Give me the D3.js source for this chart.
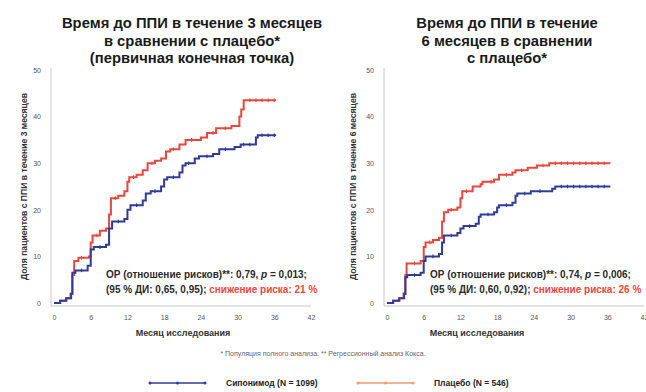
<!DOCTYPE html>
<html>
<head>
<meta charset="utf-8">
<script src="https://cdn.jsdelivr.net/npm/d3@7/dist/d3.min.js"></script>
<style>
  body { margin: 0; background: #fff; }
  svg { font-family: "Liberation Sans", Arial, sans-serif; }
  .tick text { fill: #555; font-size: 7px; }
</style>
</head>
<body>
<div id="chart"></div>
<script>
// ---- data ----
var xTicks = [0, 6, 12, 18, 24, 30, 36, 42];
var yTicks = [0, 10, 20, 30, 40, 50];

var titles3 = ["Время до ППИ в течение 3 месяцев", "в сравнении с плацебо*", "(первичная конечная точка)"];
var titles6 = ["Время до ППИ в течение", "6 месяцев в сравнении", "с плацебо*"];
var yTitle3 = "Доля пациентов с ППИ в течение 3 месяцев";
var yTitle6 = "Доля пациентов с ППИ в течение 6 месяцев";
var xTitle = "Месяц исследования";
var footnote = "* Популяция полного анализа. ** Регрессионный анализ Кокса.";
var seriesNames = ["Сипонимод (N = 1099)", "Плацебо (N = 546)"];

var blue3 = [[0,0],[1,0.5],[2,1],[2.8,2],[3,6.5],[3.5,7],[5.5,8],[6,11.5],[6.5,12],[8.5,12.5],[9,16],[9.5,17.5],
  [11.5,18],[12,20],[12.5,21],[14.5,22],[15,23.5],[15.8,24],[17.5,25],[18,26.5],[18.5,27],[20.5,28],[21,29.5],
  [21.5,30],[23,31],[23.7,31.5],[26,32],[27,33],[29.5,33.5],[30.5,34],[33,35.5],[33.3,36],[36.3,36]];
var red3 = [[0,0],[1,0.5],[2,1],[2.7,2],[3,6],[3.3,9],[4,9.7],[5.7,10],[6,13],[6.3,14.5],[7.5,15.5],[8.5,16],
  [9,19],[9.3,22.5],[10.5,23],[11.5,24],[12,26],[12.3,27],[13.5,27.5],[14.5,28.5],[15.3,30],[16.5,30.5],[17.5,31],
  [18.3,32.5],[19,33],[20.5,34],[21.5,35],[24,35.5],[25,36.5],[26.5,37.5],[29,38],[30.3,40],[30.6,41.5],[31,43.5],[36.3,43.5]];
var blue6 = [[0,0],[1,0.5],[2,1],[2.8,2],[3,5.5],[3.3,6],[5.5,6.5],[6,9],[6.3,10],[8.5,10.5],[9,13],[9.3,14.5],
  [11.5,15],[12,16],[12.5,16.5],[14.5,17],[15,18.5],[15.3,19],[17.5,19.5],[18,20.5],[18.3,21],[20.5,21.5],[21,23],
  [21.3,23.5],[23.5,24],[27,24.5],[27.5,25],[36.5,25]];
var red6 = [[0,0],[1,0.5],[2,1],[2.7,2],[3,6],[3.2,8.5],[5.5,9],[6,12],[6.3,13],[7.5,13.5],[8.5,14],[9,17.5],
  [9.3,19.5],[10,20],[11.5,20.5],[12,22.5],[12.3,24],[14,25],[15.3,25.5],[15.6,26],[17.5,26.5],[18.3,27.5],
  [20.5,28],[21,28.5],[23,29],[24.5,29.5],[26.5,30],[36.5,30]];

// censoring marks (months)
var cBlue3 = [4.5, 7.5, 10.5, 13.5, 16.5, 19.5, 22, 25, 28, 31, 32, 34, 35, 36];
var cRed3 = [4.5, 7, 10, 13, 16, 19.5, 22.5, 26, 28, 32, 33, 34, 35, 36];
var cBlue6 = [4.5, 7.5, 10.5, 13.5, 16.5, 19.5, 22.5, 25, 28.5, 29.5, 30.5, 31.5, 32.5, 33.5, 34.5, 35.5];
var cRed6 = [4.5, 7, 10.5, 13, 17, 19.5, 22, 25.5, 27.5, 28.5, 29.5, 30.5, 31.5, 32.5, 33.5, 34.5, 35.5];

var stats3 = ["ОР (отношение рисков)**: 0,79, ", "p", " = 0,013;", "(95 % ДИ: 0,65, 0,95); ", "снижение риска: 21 %"];
var stats6 = ["ОР (отношение рисков)**: 0,74, ", "p", " = 0,006;", "(95 % ДИ: 0,60, 0,92); ", "снижение риска: 26 %"];

var BLUE = "#2f3b98", RED = "#e8473d", ORANGE = "#f39a6e";

var svg = d3.select("#chart").append("svg")
    .attr("width", 646)
    .attr("height", 392);

function panel(o) {
    var x = d3.scaleLinear().domain([0, 42]).range([o.left, o.left + 257]);
    var y = d3.scaleLinear().domain([0, 50]).range([303, 70]);
    var g = svg.append("g");

    // title
    g.append("text")
        .attr("x", o.cx).attr("y", 28)
        .attr("text-anchor", "middle")
        .style("font-size", "14.8px").style("font-weight", "bold").style("fill", "#1a1a1a")
        .selectAll("tspan").data(o.title).enter().append("tspan")
        .attr("x", o.cx).attr("dy", function (d, i) { return i ? 17.5 : 0; })
        .text(function (d) { return d; });

    var xAxis = d3.axisBottom(x).tickValues(xTicks).tickSize(0).tickPadding(9);
    var yAxis = d3.axisLeft(y).tickValues(yTicks).tickSize(0).tickPadding(10);

    g.append("g").attr("transform", "translate(0,306)").call(xAxis);
    g.append("g").attr("transform", "translate(" + (o.left - 3) + ",0)").call(yAxis);
    g.selectAll(".domain").remove();
    g.append("path")
        .attr("d", "M" + (o.left - 3) + ",68V306H" + x(42))
        .attr("fill", "none").attr("stroke", "#c8c8c8");

    // axis titles
    g.append("text")
        .attr("transform", "translate(" + o.ylx + "," + y(25) + ") rotate(-90)")
        .attr("text-anchor", "middle")
        .style("font-size", "8.6px").style("font-weight", "bold").style("fill", "#333")
        .text(o.ytitle);
    g.append("text")
        .attr("x", o.xtx).attr("y", 336)
        .attr("text-anchor", "middle")
        .style("font-size", "9px").style("font-weight", "bold").style("fill", "#333")
        .text(xTitle);

    var line = d3.line()
        .x(function (d) { return x(d[0]); })
        .y(function (d) { return y(d[1]); })
        .curve(d3.curveStepAfter);

    function stepAt(data, t) {
        var v = 0;
        data.forEach(function (d) { if (d[0] <= t) v = d[1]; });
        return v;
    }

    [[o.red, o.cRed, RED], [o.blue, o.cBlue, BLUE]].forEach(function (s) {
        g.append("path")
            .datum(s[0])
            .attr("d", line)
            .attr("fill", "none")
            .attr("stroke", s[2])
            .attr("stroke-width", 2);
        g.selectAll(null)
            .data(s[1])
            .enter().append("line")
            .attr("x1", function (d) { return x(d); })
            .attr("x2", function (d) { return x(d); })
            .attr("y1", function (d) { return y(stepAt(s[0], d)) - 1.8; })
            .attr("y2", function (d) { return y(stepAt(s[0], d)) + 1.8; })
            .attr("stroke", s[2])
            .attr("stroke-width", 1.2);
    });

    // stats text
    var st = g.append("text")
        .attr("x", o.sx).attr("y", 278)
        .style("font-size", "10px").style("font-weight", "bold").style("fill", "#2a2a2a");
    st.append("tspan").text(o.stats[0]);
    st.append("tspan").style("font-style", "italic").text(o.stats[1]);
    st.append("tspan").text(o.stats[2]);
    var st2 = g.append("text")
        .attr("x", o.sx).attr("y", 293)
        .style("font-size", "10px").style("font-weight", "bold").style("fill", "#2a2a2a");
    st2.append("tspan").text(o.stats[3]);
    st2.append("tspan").style("fill", RED).text(o.stats[4]);
}

panel({left: 54, cx: 192, title: titles3, ytitle: yTitle3, ylx: 27, xtx: 183,
    blue: blue3, red: red3, cBlue: cBlue3, cRed: cRed3, stats: stats3, sx: 106});
panel({left: 387, cx: 507, title: titles6, ytitle: yTitle6, ylx: 356, xtx: 477,
    blue: blue6, red: red6, cBlue: cBlue6, cRed: cRed6, stats: stats6, sx: 430});

// footnote
svg.append("text")
    .attr("x", 323).attr("y", 356)
    .attr("text-anchor", "middle")
    .style("font-size", "7px").style("fill", "#666")
    .text(footnote);

// legend
var legend = svg.append("g").attr("transform", "translate(0,383)");
[[150, BLUE, seriesNames[0]], [358, ORANGE, seriesNames[1]]].forEach(function (l) {
    legend.append("line")
        .attr("x1", l[0]).attr("x2", l[0] + 55)
        .attr("stroke", l[1]).attr("stroke-width", 1.5);
    legend.selectAll(null).data([0, 27.5, 55]).enter().append("circle")
        .attr("cx", function (d) { return l[0] + d; })
        .attr("r", 1.5).attr("fill", l[1]);
    legend.append("text")
        .attr("x", l[0] + 76).attr("y", 3)
        .style("font-size", "8.5px").style("font-weight", "bold").style("fill", "#222")
        .text(l[2]);
});
</script>
</body>
</html>
